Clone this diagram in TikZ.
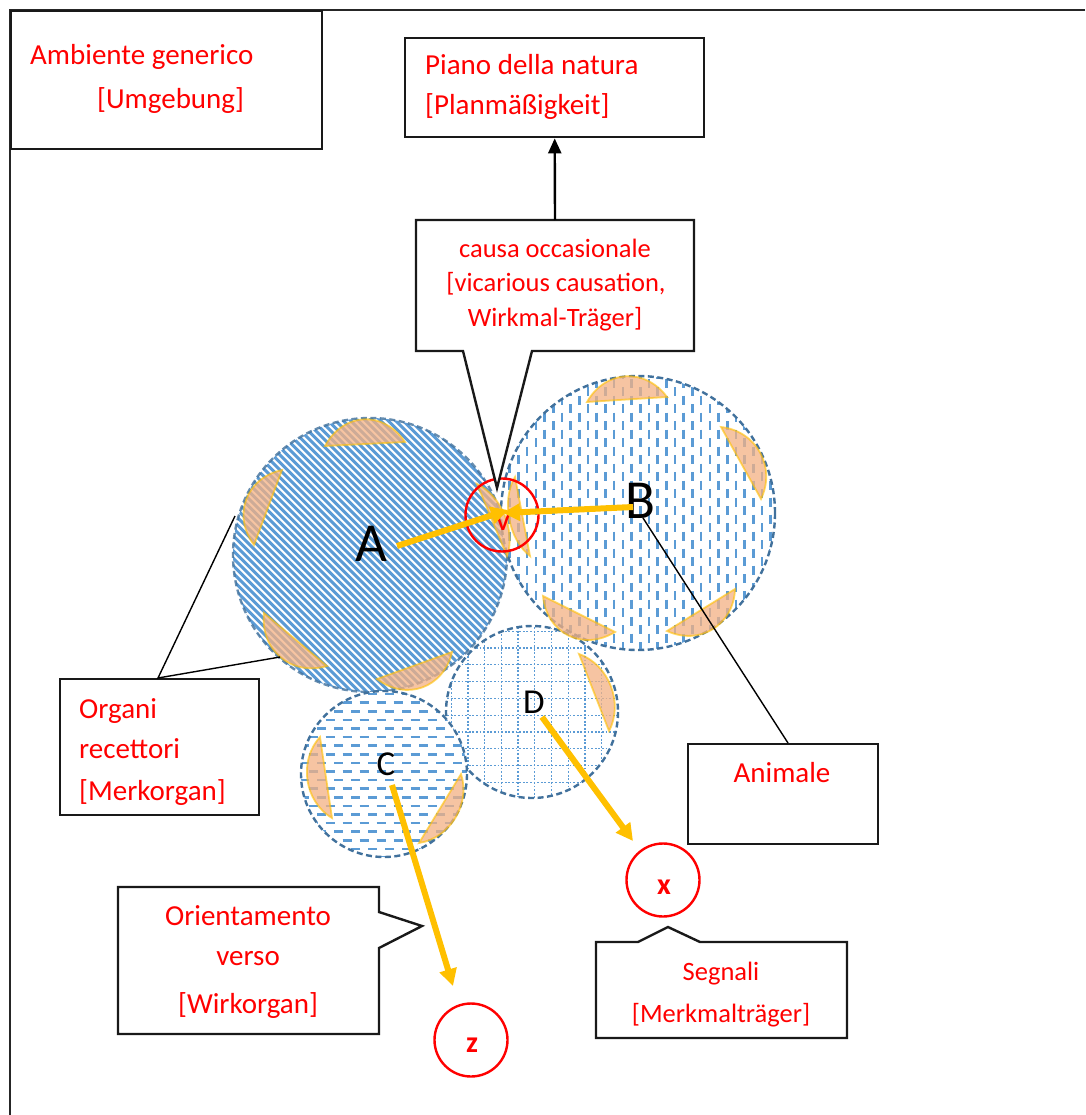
\documentclass[tikz,border=0pt]{standalone}
\usepackage{fontspec}
\setmainfont{Carlito}
\usetikzlibrary{arrows.meta,calc}

\definecolor{wred}{HTML}{FF0000}
\definecolor{pblue}{HTML}{5B9BD5}
\definecolor{rimblue}{HTML}{41719C}
\definecolor{organfill}{HTML}{F4B183}
\definecolor{organrim}{HTML}{FFC000}
\definecolor{amber}{HTML}{FFC000}

\newcommand{\txtfont}{\fontsize{29}{35}\selectfont}
\newcommand{\smallfont}{\fontsize{26.5}{32}\selectfont}

% receptor organ: lens between P1 and P2 (clockwise order), bulging outwards by #3
\newcommand{\organ}[3]{%
  \filldraw[organ] (#1) .. controls ($(#1)!0.25!(#2)!#3!90:(#2)$)
    and ($(#2)!0.25!(#1)!#3!-90:(#1)$) .. (#2) -- cycle;}

\tikzset{
  frame/.style={line width=2.4pt, draw=black!85},
  box/.style={draw=black!90, line width=2.4pt, fill=white, inner sep=0pt, rectangle},
  callout/.style={draw=black!90, line width=2.4pt, fill=white, line join=miter},
  lbl/.style={text=wred, font=\txtfont, inner sep=0pt},
  slbl/.style={text=wred, font=\smallfont, inner sep=0pt},
  big/.style={text=black, font=\fontsize{55}{60}\selectfont, inner sep=0pt},
  mid/.style={text=black, font=\fontsize{35}{40}\selectfont, inner sep=0pt},
  tag/.style={text=wred, font=\fontsize{30}{34}\selectfont\bfseries, inner sep=0pt},
  rim/.style={draw=rimblue, line width=2.4pt, dash pattern=on 6pt off 3.5pt},
  organ/.style={fill=organfill, fill opacity=0.75, draw=organrim, draw opacity=0.6, line width=1.8pt},
  ring/.style={circle, draw=wred, line width=2.4pt, inner sep=0pt, minimum size=73pt},
  yarrow/.style={draw=amber, line width=6pt, -{Triangle[length=17pt,width=17pt]}},
  blkarrow/.style={draw=black, line width=2.4pt, -{Triangle[length=15pt,width=13pt]}},
  leader/.style={draw=black, line width=1.4pt},
}

\begin{document}
\begin{tikzpicture}[x=1pt,y=-1pt]
\useasboundingbox (0,0) rectangle (1085,1115);
\fill[white] (0,0) rectangle (1085,1115);

% environment frame
\draw[frame] (1085,10) -- (10,10) -- (10,1115);

% ---------- animal A: diagonal stripes ----------
\fill[white] (370,555) circle[radius=137];
\begin{scope}
  \clip (370,555) circle[radius=137];
  \foreach \k in {0,...,74}
    \draw[pblue, line width=3pt] (-65+7.5*\k,395) -- ++(320,320);
\end{scope}
\draw[rim, draw opacity=0.8] (370,555) circle[radius=137];

% ---------- animal B: vertical dashes ----------
\fill[white] (638,513) circle[radius=137];
\begin{scope}
  \clip (638,513) circle[radius=137];
  \foreach \k in {0,...,32}{
    \pgfmathsetmacro\xx{501+8.7*\k}
    \pgfmathsetmacro\ph{mod(\k,2)*8.5}
    \draw[pblue, line width=2.6pt, dash pattern=on 9pt off 8pt, dash phase=\ph pt] (\xx,370) -- (\xx,656);
  }
\end{scope}
\draw[rim] (638,513) circle[radius=137];

% ---------- animal D: dotted grid ----------
\fill[white] (532,712) circle[radius=86];
\begin{scope}
  \clip (532,712) circle[radius=86];
  \foreach \k in {-3,...,10}{
    \draw[pblue, line width=1.3pt, dash pattern=on 1.8pt off 1.8pt] (468+16.7*\k,620) -- (468+16.7*\k,800);
    \draw[pblue, line width=1.3pt, dash pattern=on 1.8pt off 1.8pt] (440,648+16.8*\k) -- (620,648+16.8*\k);
  }
\end{scope}
\draw[rim] (532,712) circle[radius=86];

% ---------- animal C: horizontal dashes ----------
\fill[white] (384,774) circle[radius=83];
\begin{scope}
  \clip (384,774) circle[radius=83];
  \foreach \k in {0,...,20}{
    \pgfmathsetmacro\yy{694+8.6*\k}
    \pgfmathsetmacro\ph{mod(\k,2)*8.5}
    \draw[pblue, line width=2.6pt, dash pattern=on 9pt off 8pt, dash phase=\ph pt] (300,\yy) -- (470,\yy);
  }
\end{scope}
\draw[rim] (384,774) circle[radius=83];

% ---------- receptor organs ----------
\organ{325,446}{405,442}{33pt}
\organ{254,545}{282,470}{31pt}
\organ{327,666}{264,613}{31pt}
\organ{452,652}{377,679}{31pt}
\organ{477,484}{507,556}{18pt}
\organ{587,402}{667,397}{31pt}
\organ{721,427}{761,499}{29pt}
\organ{615,632}{543,596}{32pt}
\organ{735,589}{667,631}{30pt}
\organ{530,556}{515,477}{18pt}
\organ{332,818}{320,737}{25pt}
\organ{461,774}{419,843}{24pt}
\organ{579,654}{609,731}{24pt}

% ---------- red rings ----------
\node[ring] (yring) at (502,515) {};
\node[ring] (xring) at (663,880) {};
\node[ring] (zring) at (471,1040) {};
\node[text=wred, font=\fontsize{32}{36}\selectfont, inner sep=0pt, anchor=base] (ytag) at (503,530) {V};
\node[tag, anchor=base] (xtag) at (664,894) {x};
\node[tag, anchor=base] (ztag) at (472,1052) {z};

% ---------- animal letters ----------
\node[big, anchor=base] (labA) at (371,561) {A};
\node[big, anchor=base] (labB) at (640,518) {B};
\node[mid, anchor=base] (labC) at (386,775) {C};
\node[mid, anchor=base] (labD) at (534,713) {D};

% ---------- yellow arrows ----------
\coordinate (aFrom) at (397,546);
\coordinate (aTo) at (508,510);
\coordinate (bFrom) at (633,507);
\coordinate (bTo) at (503,513);
\coordinate (dFrom) at (542,717);
\coordinate (dTo) at (633,841);
\coordinate (cFrom) at (392,785);
\coordinate (cTo) at (453,986);
\draw[yarrow] (aFrom) -- (aTo);
\draw[yarrow] (bFrom) -- (bTo);
\draw[yarrow] (dFrom) -- (dTo);
\draw[yarrow] (cFrom) -- (cTo);

% ---------- plain boxes ----------
\node[box, anchor=north west, minimum width=311pt, minimum height=138pt] (amb) at (10,10) {};
\node[lbl, anchor=base west] (amb1) at (30,65) {Ambiente generico};
\node[lbl, anchor=base west] (amb2) at (97,109) {[Umgebung]};

\node[box, anchor=north west, minimum width=299pt, minimum height=99pt] (piano) at (404,37) {};
\node[lbl, anchor=base west] (piano1) at (425,75) {Piano della natura};
\node[lbl, anchor=base west] (piano2) at (425,115) {[Planmäßigkeit]};

\node[box, anchor=north west, minimum width=199pt, minimum height=136pt] (organi) at (59,678) {};
\node[lbl, anchor=base west] (org1) at (79,718) {Organi};
\node[lbl, anchor=base west] (org2) at (79,758) {recettori};
\node[lbl, anchor=base west] (org3) at (79,800) {[Merkorgan]};

\node[box, anchor=north west, minimum width=190pt, minimum height=100pt] (animale) at (687,743) {};
\node[lbl, anchor=base] (anim1) at (782,782) {Animale};

% ---------- leader lines ----------
\coordinate (orgTop) at (158,678);
\coordinate (orgEdge1) at (235,516);
\coordinate (orgEdge2) at (280,657);
\draw[leader] (orgEdge1) -- (orgTop) -- (orgEdge2);
\coordinate (animTop) at (788,743);
\coordinate (animB) at (643,518);
\draw[leader] (animTop) -- (animB);

% ---------- callout: occasional cause ----------
\coordinate (causaTip) at (497,488);
\draw[callout] (416,220) -- (694,220) -- (694,351) -- (532,351) -- (causaTip)
  -- (463,351) -- (416,351) -- cycle;
\coordinate (causaTop) at (555,220);
\node[slbl, anchor=base] (causa1) at (555,257) {causa occasionale};
\node[slbl, anchor=base] (causa2) at (556,291) {[vicarious causation,};
\node[slbl, anchor=base] (causa3) at (555,326) {Wirkmal-Träger]};
\draw[blkarrow] (causaTop) -- (piano.south);

% ---------- callout: orientation ----------
\coordinate (orTip) at (422,926);
\draw[callout] (118,887) -- (379,887) -- (379,912) -- (orTip) -- (379,948)
  -- (379,1034) -- (118,1034) -- cycle;
\node[lbl, anchor=base] (or1) at (248,925) {Orientamento};
\node[lbl, anchor=base] (or2) at (248,965) {verso};
\node[lbl, anchor=base] (or3) at (248,1013) {[Wirkorgan]};

% ---------- callout: signals ----------
\coordinate (segTip) at (668,927);
\draw[callout] (596,942) -- (638,942) -- (segTip) -- (700,942) -- (847,942)
  -- (847,1038) -- (596,1038) -- cycle;
\node[slbl, anchor=base] (seg1) at (721,980) {Segnali};
\node[slbl, anchor=base] (seg2) at (721,1022) {[Merkmalträger]};
\end{tikzpicture}
\end{document}
